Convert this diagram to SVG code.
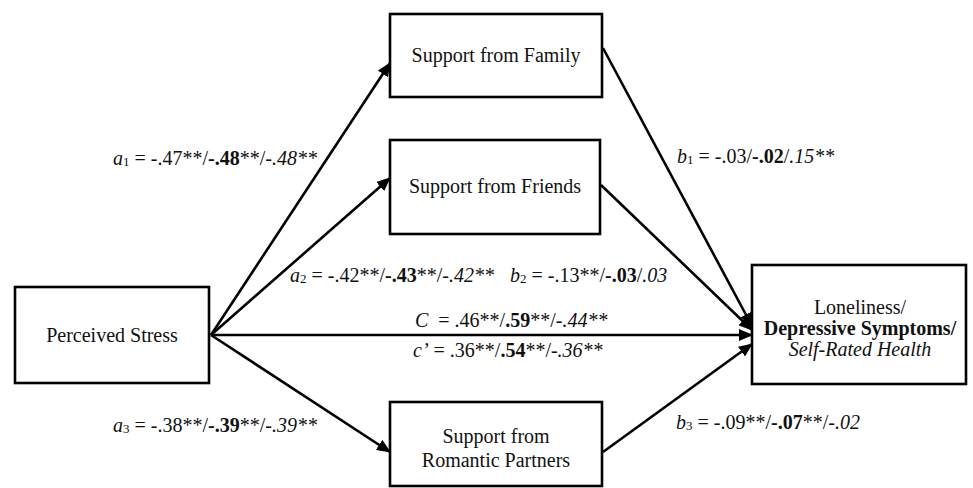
<svg xmlns="http://www.w3.org/2000/svg" width="973" height="488" viewBox="0 0 973 488">
<defs>
<marker id="ah" markerUnits="userSpaceOnUse" markerWidth="14" markerHeight="12" viewBox="0 0 14 12" refX="13" refY="6" orient="auto">
<path d="M0,0 L14,6 L0,12 Z" fill="#000"/>
</marker>
<style>
.box{fill:#fff;stroke:#000;stroke-width:2.6}
.t{font-family:"Liberation Serif","Times New Roman",serif;font-size:20px;fill:#111}
.c{text-anchor:middle}
.i{font-style:italic}
.b{font-weight:bold}
.s{font-size:13px}
.ln{stroke:#000;stroke-width:2.6;fill:none;marker-end:url(#ah)}
</style>
</defs>
<rect width="973" height="488" fill="#fff"/>
<g id="connectors">
<line class="ln" x1="211" y1="335" x2="390" y2="63"/>
<line class="ln" x1="211" y1="335" x2="390" y2="178"/>
<line class="ln" x1="211" y1="335" x2="752" y2="335"/>
<line class="ln" x1="211" y1="335" x2="390" y2="452"/>
<line class="ln" x1="603" y1="48" x2="752" y2="326"/>
<line class="ln" x1="601" y1="185" x2="752" y2="330"/>
<line class="ln" x1="603" y1="452" x2="752" y2="344"/>
</g>
<g id="labels" class="t">
<text x="113" y="165"><tspan class="i">a</tspan><tspan class="s" dy="1">1</tspan><tspan dy="-1"> = -.47**/</tspan><tspan class="b">-.48</tspan>**/<tspan class="i">-.48**</tspan></text>
<text x="677" y="163"><tspan class="i">b</tspan><tspan class="s" dy="1">1</tspan><tspan dy="-1"> = -.03/</tspan><tspan class="b">-.02</tspan>/<tspan class="i">.15**</tspan></text>
<text x="290" y="282"><tspan class="i">a</tspan><tspan class="s" dy="1">2</tspan><tspan dy="-1"> = -.42**/</tspan><tspan class="b">-.43</tspan>**/<tspan class="i">-.42**</tspan></text>
<text x="510" y="282"><tspan class="i">b</tspan><tspan class="s" dy="1">2</tspan><tspan dy="-1"> = -.13**/</tspan><tspan class="b">-.03</tspan>/<tspan class="i">.03</tspan></text>
<text x="415" y="327"><tspan class="i">C</tspan><tspan dx="5"> = .46**/</tspan><tspan class="b">.59</tspan>**/<tspan class="i">-.44**</tspan></text>
<text x="413" y="357"><tspan class="i">c’</tspan> = .36**/<tspan class="b">.54</tspan>**/<tspan class="i">-.36**</tspan></text>
<text x="113" y="432"><tspan class="i">a</tspan><tspan class="s" dy="1">3</tspan><tspan dy="-1"> = -.38**/</tspan><tspan class="b">-.39</tspan>**/<tspan class="i">-.39**</tspan></text>
<text x="676" y="429"><tspan class="i">b</tspan><tspan class="s" dy="1">3</tspan><tspan dy="-1"> = -.09**/</tspan><tspan class="b">-.07</tspan>**/<tspan class="i">-.02</tspan></text>
</g>
<g id="family">
<rect class="box" x="390" y="14" width="212" height="83"/>
<text class="t c" x="496" y="62">Support from Family</text>
</g>
<g id="friends">
<rect class="box" x="390" y="140" width="210" height="94"/>
<text class="t c" x="495" y="193">Support from Friends</text>
</g>
<g id="stress">
<rect class="box" x="15" y="287" width="194" height="96"/>
<text class="t c" x="112" y="342">Perceived Stress</text>
</g>
<g id="romantic">
<rect class="box" x="390" y="402" width="212" height="84"/>
<text class="t c" x="496" y="443">Support from</text>
<text class="t c" x="496" y="467">Romantic Partners</text>
</g>
<g id="outcome">
<rect class="box" x="752" y="265" width="214" height="119"/>
<text class="t c" x="860" y="314">Loneliness/</text>
<text class="t c b" x="860" y="335">Depressive Symptoms/</text>
<text class="t c i" x="860" y="356">Self-Rated Health</text>
</g>
</svg>
